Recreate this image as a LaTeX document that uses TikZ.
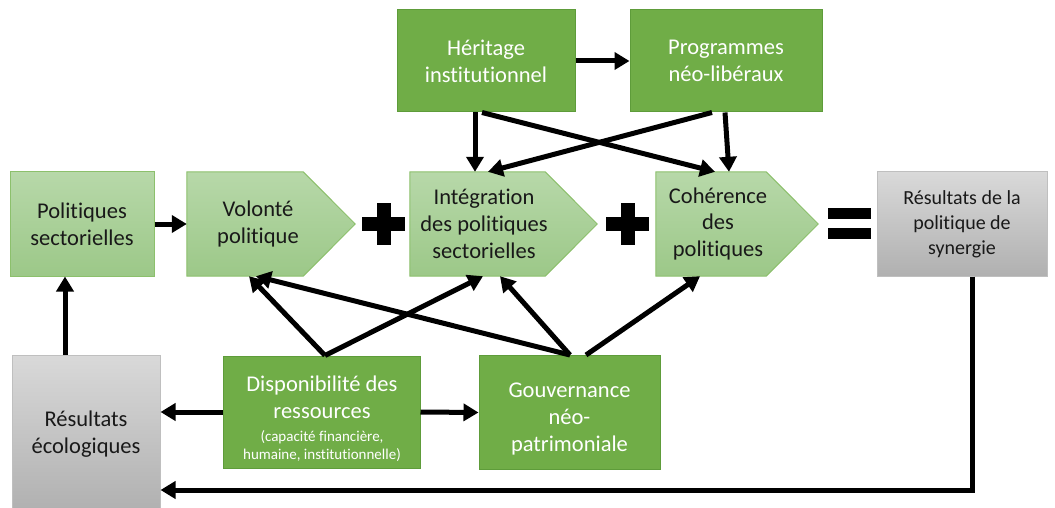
\documentclass[tikz,border=0pt]{standalone}
\usepackage{fontspec}
\setmainfont{Carlito}[Ligatures=NoCommon]
\usetikzlibrary{arrows.meta}
\definecolor{dg}{HTML}{70AD47}
\definecolor{dgb}{HTML}{5E9C3A}
\definecolor{lgt}{HTML}{B7D8A9}
\definecolor{lgb}{HTML}{9CC888}
\definecolor{lgd}{HTML}{8CC06C}
\definecolor{grt}{HTML}{D9D9D9}
\definecolor{grb}{HTML}{B0B0B0}
\definecolor{grd}{HTML}{BFBFBF}
\newcommand\pentshape[2]{\path[lightbox] (#1.north west) -- ([xshift=-#2pt]#1.north east) -- (#1.east) -- ([xshift=-#2pt]#1.south east) -- (#1.south west) -- cycle;}
\begin{document}
\begin{tikzpicture}[x=1pt,y=-1pt,
  darkbox/.style={rectangle, inner sep=0pt, fill=dg, draw=dgb, line width=1pt},
  lightbox/.style={top color=lgt, bottom color=lgb, draw=lgd, line width=1pt},
  lightrect/.style={rectangle, inner sep=0pt, lightbox},
  graybox/.style={rectangle, inner sep=0pt, top color=grt, bottom color=grb, draw=grd, line width=1pt},
  holder/.style={rectangle, inner sep=0pt, draw=none},
  txt/.style={align=center, inner sep=0pt, font=\fontsize{22.5}{27}\selectfont, text=black!90},
  wtxt/.style={txt, text=white},
  arr/.style={line width=5pt, -{Triangle[length=15pt,width=17pt]}},
  bar/.style={fill=black, draw=none}
]
\useasboundingbox (0,0) rectangle (1055,508);

% top boxes
\node[darkbox, minimum width=178pt, minimum height=102pt] (her) at (486,61) {};
\node[wtxt] (hert) at (486,61) {Héritage\\institutionnel};
\node[darkbox, minimum width=192pt, minimum height=102pt] (prog) at (726,61) {};
\node[wtxt] (progt) at (726,61) {Programmes\\néo-libéraux};

% middle row
\node[lightrect, minimum width=144pt, minimum height=104pt] (pol) at (82,224) {};
\node[txt] (polt) at (82,224) {Politiques\\sectorielles};

\node[holder, minimum width=168pt, minimum height=104pt] (vol) at (271,224) {};
\pentshape{vol}{52}
\node[txt] (volt) at (258,224) {Volonté\\politique};

\node[holder, minimum width=187pt, minimum height=104pt] (int) at (503.5,224) {};
\pentshape{int}{52}
\node[txt] (intt) at (484,224) {Intégration\\des politiques\\sectorielles};

\node[holder, minimum width=162pt, minimum height=104pt] (coh) at (737,224) {};
\pentshape{coh}{52}
\node[txt] (coht) at (718,224) {Cohérence\\des\\politiques};

\node[graybox, minimum width=170pt, minimum height=104pt] (syn) at (962,224) {};
\node[txt, font=\fontsize{20}{25}\selectfont] (synt) at (962,224) {Résultats de la\\politique de\\synergie};

% operators
\path[bar] (376.5,203) rectangle (390.5,245);
\path[bar] (362,217) rectangle (405,231);
\path[bar] (620.5,203) rectangle (634.5,245);
\path[bar] (606,217) rectangle (649,231);
\path[bar] (828,208) rectangle (871,219);
\path[bar] (828,228) rectangle (871,239);

% bottom row
\node[graybox, minimum width=148pt, minimum height=157pt] (eco) at (86,433.5) {};
\node[txt] (ecot) at (86,434) {Résultats\\écologiques};

\node[darkbox, minimum width=197pt, minimum height=112pt] (disp) at (321.5,412) {};
\node[wtxt, anchor=north] (dispt) at (322,376) {Disponibilité des\\ressources};
\node[wtxt, anchor=north, font=\fontsize{15}{18}\selectfont] (disps) at (322,430) {(capacité financière,\\humaine, institutionnelle)};

\node[darkbox, minimum width=181pt, minimum height=114pt] (gouv) at (569.5,412.5) {};
\node[wtxt] (gouvt) at (569.5,419) {Gouvernance\\néo-\\patrimoniale};

% connectors
\draw[arr] (pol.east) -- (vol.west);
\draw[arr] (her.east) -- (prog.west);
\draw[arr] ([xshift=-11pt]her.south) -- ([xshift=-28.5pt]int.north);
\draw[arr] ([xshift=-4pt]her.south) -- ([xshift=-22pt]coh.north);
\draw[arr] ([xshift=-14pt]prog.south) -- ([xshift=-15.5pt]int.north);
\draw[arr] ([xshift=-1pt]prog.south) -- ([xshift=-8pt]coh.north);

\draw[arr] ([xshift=3.5pt]disp.north) -- ([xshift=-22pt]vol.south);
\draw[arr] ([xshift=3.5pt]disp.north) -- ([xshift=-20.5pt]int.south);
\draw[arr] ([xshift=0.5pt]gouv.north) -- ([xshift=-15pt]vol.south);
\draw[arr] ([xshift=0.5pt]gouv.north) -- ([xshift=-3.5pt]int.south);
\draw[arr] ([xshift=16.5pt]gouv.north) -- ([xshift=-37pt]coh.south);

\draw[arr] (disp.east) -- (gouv.west);
\draw[arr] (disp.west) -- (disp.west -| eco.east);
\draw[arr] ([xshift=-21pt]eco.north) -- ([xshift=-21pt]eco.north |- pol.south);
\draw[arr] ([xshift=10pt]syn.south) |- ([yshift=-56.5pt]eco.east);
\end{tikzpicture}
\end{document}
